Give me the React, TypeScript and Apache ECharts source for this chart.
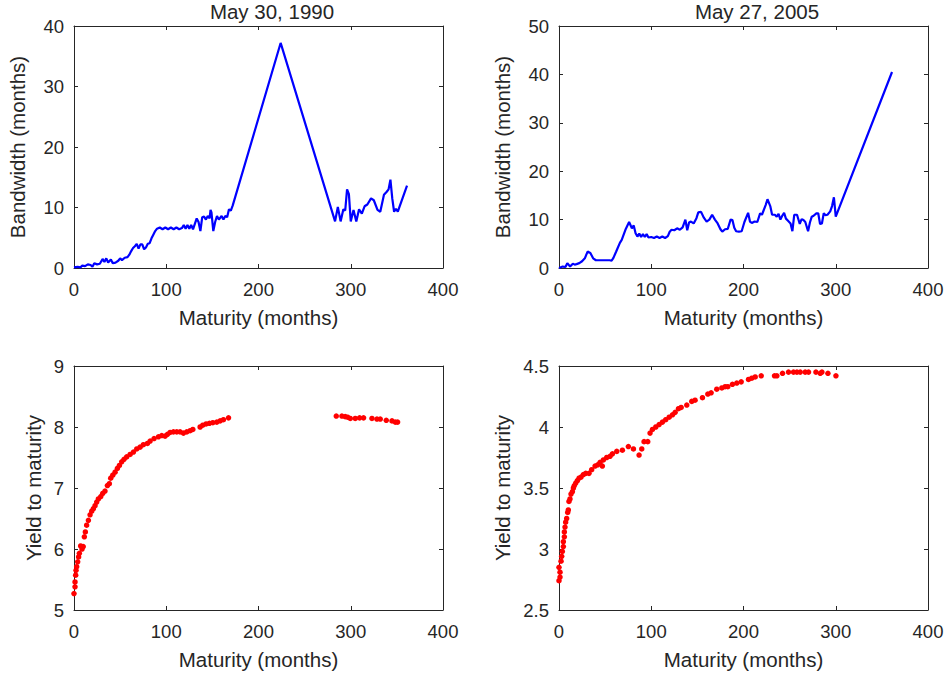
import React, { useEffect, useRef } from "react";
import * as echarts from "echarts";

// ---------- data ----------
const titles = ["May 30, 1990", "May 27, 2005"];
const xTicks = [0, 100, 200, 300, 400];

const bw1990Months = [
  0, 4, 7, 9, 12, 15, 18, 20, 22, 25, 28, 31, 33, 35, 37, 40, 42, 45, 48, 50,
  52, 55, 58, 60, 62, 64, 66, 68, 70, 72, 74, 76, 78, 80, 82, 84, 86, 88, 90, 93,
  96, 99, 102, 105, 108, 111, 114, 117, 119, 121, 123, 125, 127, 129, 131, 133, 135, 137, 139, 141,
  143, 145, 147, 148, 149, 151, 153, 155, 157, 160, 162, 164, 166, 168, 170, 172, 224, 283, 286, 289,
  292, 294, 296, 298, 300, 303, 306, 309, 312, 315, 318, 322, 325, 329, 332, 336, 339, 341, 343, 345,
  347, 349, 351, 361,
];
const bw1990Values = [
  0.1, 0.2, 0.1, 0.4, 0.3, 0.6, 0.5, 0.2, 0.8, 0.6, 0.7, 1.5, 1.0, 1.6, 0.9, 1.4, 0.8, 0.9, 1.2, 1.6,
  1.3, 1.7, 1.8, 2.2, 2.8, 3.3, 3.6, 4.0, 3.2, 3.9, 3.9, 3.1, 3.4, 4.0, 4.1, 4.9, 5.5, 6.1, 6.5, 6.7,
  6.4, 6.7, 6.4, 6.7, 6.4, 6.7, 6.4, 6.6, 7.1, 6.5, 7.1, 6.5, 7.1, 6.4, 7.3, 8.2, 7.6, 6.1, 8.4, 8.5,
  8.0, 8.6, 8.2, 9.6, 9.2, 6.1, 7.6, 8.6, 8.0, 8.6, 8.0, 8.6, 8.4, 9.7, 9.5, 10.3, 37.2, 7.7, 10.1, 7.7,
  9.7, 9.5, 13.0, 12.2, 7.7, 9.6, 7.7, 9.7, 9.0, 10.2, 10.5, 11.5, 11.2, 9.6, 9.3, 12.1, 12.6, 13.0, 14.6, 11.5,
  9.3, 9.8, 9.3, 13.6,
];

const bw2005Months = [
  0, 4, 7, 9, 12, 15, 17, 19, 22, 25, 28, 31, 34, 37, 40, 45, 50, 55, 57, 59,
  62, 66, 68, 72, 76, 79, 81, 83, 85, 87, 89, 91, 93, 95, 97, 100, 103, 106, 109, 112,
  115, 118, 120, 122, 125, 128, 131, 134, 137, 139, 141, 143, 146, 149, 151, 154, 157, 160, 163, 166,
  169, 172, 175, 177, 180, 183, 186, 188, 190, 192, 195, 198, 201, 205, 207, 209, 212, 215, 218, 220,
  224, 226, 229, 231, 234, 236, 238, 240, 242, 244, 246, 248, 251, 253, 255, 258, 261, 263, 265, 267,
  270, 272, 274, 276, 279, 281, 283, 285, 287, 289, 291, 294, 296, 298, 300, 361,
];
const bw2005Values = [
  0.0, 0.3, 0.2, 1.0, 0.3, 0.9, 0.7, 0.8, 1.0, 1.4, 2.0, 3.4, 3.1, 2.0, 1.6, 1.6, 1.6, 1.6, 1.5, 2.1,
  3.4, 5.2, 5.8, 7.9, 9.5, 8.2, 8.8, 7.2, 6.5, 7.1, 6.4, 7.0, 6.4, 7.0, 6.3, 6.4, 6.2, 6.5, 6.2, 6.5,
  6.2, 6.6, 7.5, 7.9, 7.8, 8.2, 7.9, 8.4, 10.0, 7.8, 9.4, 9.6, 9.2, 10.3, 11.5, 11.6, 10.4, 9.6, 10.0, 11.0,
  10.0, 9.2, 8.0, 7.5, 8.0, 8.1, 10.0, 9.9, 8.3, 7.6, 7.5, 7.6, 9.5, 11.4, 9.6, 9.3, 9.6, 9.5, 11.3, 11.0,
  13.0, 14.2, 12.8, 11.0, 11.0, 10.6, 11.2, 10.0, 10.8, 11.4, 10.2, 9.8, 9.2, 7.6, 11.0, 11.0, 9.1, 10.1, 9.9, 9.5,
  7.6, 9.4, 10.6, 10.8, 11.3, 11.3, 9.1, 9.2, 11.3, 10.9, 11.0, 11.7, 12.8, 14.6, 10.6, 40.5,
];

const ytm1990Months = [
  0, 1.1, 1.1, 1.8, 2.2, 2.9, 4, 5, 5.8, 7.2, 8.7, 10, 11.2, 12.3, 13.7, 15.6, 17.4, 19.2, 21, 22.8,
  24.6, 26.4, 29, 31.1, 33.6, 36.2, 38.3, 39.8, 42, 44.5, 47, 49.2, 51.7, 54.2, 57.1, 60.8, 64.4, 68, 71.6, 75.2,
  79.6, 82.5, 86.8, 91.5, 95.1, 98.7, 101.3, 104.2, 107.8, 111.4, 115, 118.6, 122.2, 125.9, 128.8, 136.7, 139.6, 143.2, 146.8, 150.5,
  154.8, 158.4, 162, 167.5, 284.3, 290.4, 294, 296.6, 299.5, 304.9, 309.6, 313.9, 323, 328.4, 332, 338.5, 344.7, 348.3, 350.8,
];
const ytm1990Values = [
  5.27, 5.38, 5.46, 5.57, 5.65, 5.71, 5.79, 5.87, 5.93, 6.05, 6.0, 6.04, 6.2, 6.28, 6.39, 6.47, 6.56, 6.62, 6.66, 6.71,
  6.77, 6.82, 6.86, 6.91, 6.95, 7.04, 7.07, 7.16, 7.21, 7.26, 7.32, 7.37, 7.43, 7.47, 7.51, 7.55, 7.59, 7.64, 7.67, 7.71,
  7.73, 7.77, 7.81, 7.84, 7.86, 7.85, 7.88, 7.91, 7.92, 7.92, 7.92, 7.9, 7.92, 7.94, 7.96, 8.0, 8.03, 8.05, 8.06, 8.07,
  8.08, 8.1, 8.12, 8.15, 8.18, 8.18, 8.17, 8.16, 8.14, 8.14, 8.15, 8.15, 8.14, 8.13, 8.13, 8.11, 8.1, 8.08, 8.08,
];

const ytm2005Months = [
  0, 1.1, 1.1, 0, 2.2, 2.9, 3.6, 4.7, 4.7, 5.8, 5.8, 6.5, 7.2, 8.3, 9.4, 10.1, 10.8, 11.9, 13, 14.5,
  15.6, 16.6, 18.1, 19.9, 21.7, 23.9, 26.4, 29, 32.5, 35.4, 39.1, 42, 44.5, 47, 48.1, 51.7, 55.3, 57.9, 62.6, 68.7,
  75.2, 80.7, 86.8, 89.7, 92.2, 96.2, 98.7, 101.3, 104.9, 108.5, 112.1, 115.7, 119.4, 123, 125.9, 129.5, 132.4, 138.5, 143.9, 147.5,
  155.5, 161.3, 164.9, 171, 176.5, 180.1, 183, 188, 192.7, 197.5, 205.4, 209, 212.7, 219.2, 233.6, 236.2, 242.3, 248.8, 254.2, 257.9,
  261.5, 266.9, 270.5, 278.5, 283.2, 285, 291.5, 300.2,
];
const ytm2005Values = [
  2.74, 2.77, 2.81, 2.85, 2.9, 2.94, 2.98, 3.02, 3.06, 3.1, 3.14, 3.18, 3.22, 3.25, 3.3, 3.32, 3.39, 3.41, 3.45, 3.47,
  3.5, 3.52, 3.54, 3.56, 3.58, 3.59, 3.61, 3.62, 3.62, 3.65, 3.68, 3.69, 3.71, 3.68, 3.73, 3.75, 3.76, 3.78, 3.8, 3.81,
  3.84, 3.82, 3.77, 3.82, 3.88, 3.88, 3.95, 3.98, 4.0, 4.02, 4.04, 4.06, 4.08, 4.1, 4.12, 4.15, 4.16, 4.18, 4.21, 4.22,
  4.24, 4.27, 4.28, 4.31, 4.32, 4.33, 4.33, 4.35, 4.36, 4.37, 4.39, 4.4, 4.41, 4.42, 4.42, 4.42, 4.44, 4.45, 4.45, 4.45,
  4.45, 4.45, 4.45, 4.45, 4.44, 4.45, 4.44, 4.42,
];

const zip = (xs: number[], ys: number[]) => xs.map((x, i) => [x, ys[i]]);

// ---------- styles ----------
const FONT = "'Liberation Sans', Arial, Helvetica, sans-serif";
const AX = "#262626";
const TICK_FS = 18.5;
const NAME_FS = 20.5;

const grids = [
  { left: 74, top: 26, width: 369, height: 242 },
  { left: 559, top: 26, width: 369, height: 242 },
  { left: 74, top: 366, width: 369, height: 244 },
  { left: 559, top: 366, width: 369, height: 244 },
];

const yRanges = [
  { min: 0, max: 40, interval: 10, name: "Bandwidth (months)", gap: 46 },
  { min: 0, max: 50, interval: 10, name: "Bandwidth (months)", gap: 46 },
  { min: 5, max: 9, interval: 1, name: "Yield to maturity", gap: 30 },
  { min: 2.5, max: 4.5, interval: 0.5, name: "Yield to maturity", gap: 46 },
];

export default function App() {
  const ref = useRef<HTMLDivElement>(null);

  useEffect(() => {
    const chart = echarts.init(ref.current!, null, { renderer: "svg" });

    const axisLine = { show: true, onZero: false, lineStyle: { color: AX, width: 1 } };
    const axisTick = { show: true, inside: true, length: 4, lineStyle: { color: AX, width: 1 } };
    const xAxis: any[] = [];
    const yAxis: any[] = [];
    grids.forEach((_, i) => {
      const base = {
        type: "value",
        gridIndex: i,
        min: xTicks[0],
        max: xTicks[xTicks.length - 1],
        interval: xTicks[1] - xTicks[0],
        axisLine,
        axisTick,
        splitLine: { show: false },
      };
      xAxis.push({
        ...base,
        position: "bottom",
        axisLabel: { color: AX, fontSize: TICK_FS, fontFamily: FONT, margin: 12 },
        name: "Maturity (months)",
        nameLocation: "middle",
        nameGap: 39,
        nameTextStyle: { color: AX, fontSize: NAME_FS, fontFamily: FONT },
      });
      xAxis.push({ ...base, position: "top", axisLabel: { show: false } });

      const r = yRanges[i];
      const ybase = {
        type: "value",
        gridIndex: i,
        min: r.min,
        max: r.max,
        interval: r.interval,
        axisLine,
        axisTick,
        splitLine: { show: false },
      };
      yAxis.push({
        ...ybase,
        position: "left",
        axisLabel: { color: AX, fontSize: TICK_FS, fontFamily: FONT, margin: 10 },
        name: r.name,
        nameLocation: "middle",
        nameGap: r.gap,
        nameTextStyle: { color: AX, fontSize: NAME_FS, fontFamily: FONT },
      });
      yAxis.push({ ...ybase, position: "right", axisLabel: { show: false } });
    });

    const lineSeries = (i: number, data: number[][]) => ({
      type: "line",
      xAxisIndex: 2 * i,
      yAxisIndex: 2 * i,
      data,
      showSymbol: false,
      symbol: "none",
      lineStyle: { color: "#0000ff", width: 2.2 },
      itemStyle: { color: "#0000ff" },
    });
    const scatterSeries = (i: number, data: number[][]) => ({
      type: "scatter",
      xAxisIndex: 2 * i,
      yAxisIndex: 2 * i,
      data,
      symbol: "circle",
      symbolSize: 5.5,
      itemStyle: { color: "#ff0000", opacity: 1 },
    });

    chart.setOption({
      animation: false,
      backgroundColor: "#ffffff",
      grid: grids,
      xAxis,
      yAxis,
      graphic: [
        {
          type: "text",
          x: 272,
          y: 1,
          style: { text: titles[0], fill: AX, font: `${NAME_FS}px ${FONT}`, align: "center", verticalAlign: "top" },
        },
        {
          type: "text",
          x: 757,
          y: 1,
          style: { text: titles[1], fill: AX, font: `${NAME_FS}px ${FONT}`, align: "center", verticalAlign: "top" },
        },
      ],
      series: [
        lineSeries(0, zip(bw1990Months, bw1990Values)),
        lineSeries(1, zip(bw2005Months, bw2005Values)),
        scatterSeries(2, zip(ytm1990Months, ytm1990Values)),
        scatterSeries(3, zip(ytm2005Months, ytm2005Values)),
      ],
    });

    return () => chart.dispose();
  }, []);

  return (
    <div
      ref={ref}
      style={{ position: "fixed", left: 0, top: 0, width: 947, height: 679, background: "#fff" }}
    />
  );
}
